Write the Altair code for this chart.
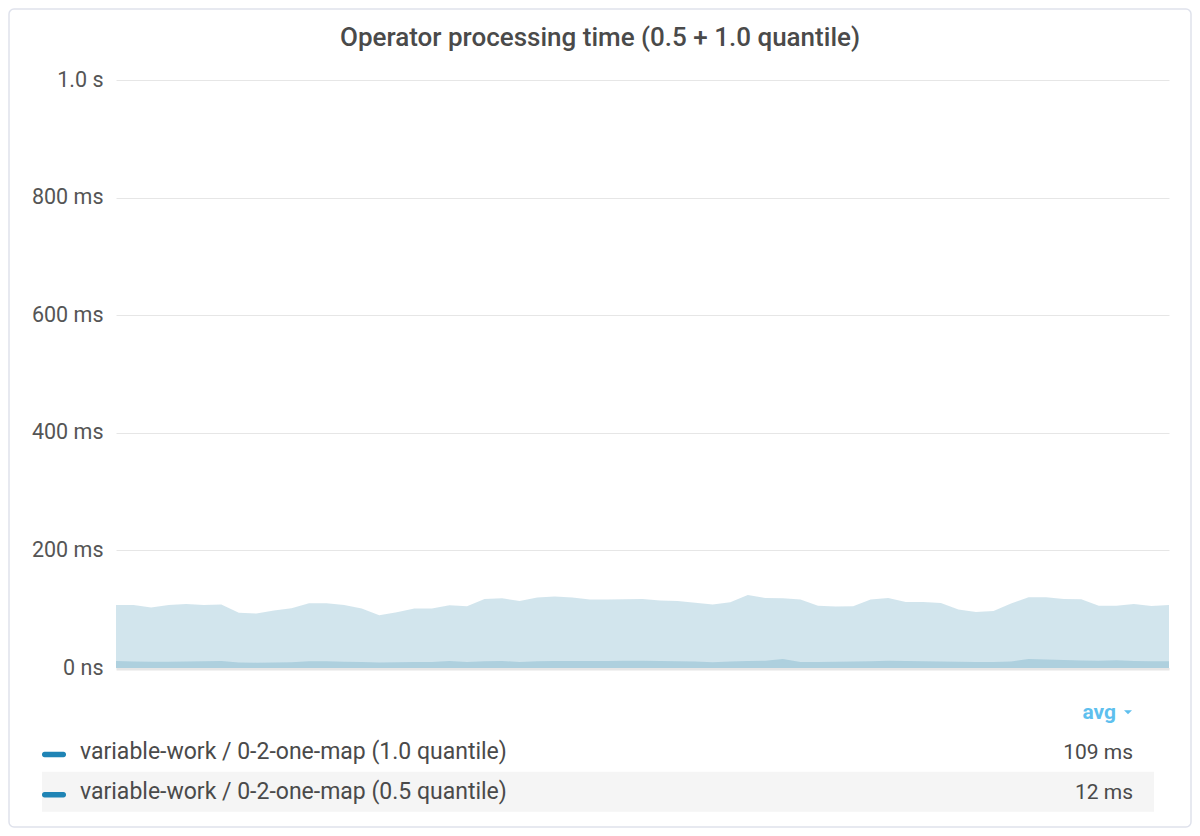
import altair as alt
import pandas as pd

# ---- data ----
q100 = [107, 107, 103, 107, 109, 107, 108, 94, 92.5, 98, 101.6, 110, 110, 107, 101,
        89.6, 94.7, 101, 101, 106.7, 105, 117.4, 118.6, 114, 119.7, 121.4, 120, 116.3,
        116.3, 117, 117.4, 115, 114, 111, 107.8, 111.8, 124, 119, 118.6, 116.3, 106,
        104.4, 105, 116.3, 119, 112.3, 112.3, 110.6, 99.3, 95.3, 97, 109.5, 120.3, 120.3,
        117.4, 117, 106, 106, 109, 105.5, 107]
q050 = [11.9, 11, 10.8, 10.8, 11, 11.5, 11.9, 9.5, 9.1, 9.5, 9.8, 11.5, 11.5, 10.8, 10.2,
        9.5, 9.8, 10, 10.2, 11.8, 10.2, 11.5, 12, 10.2, 11.5, 12, 12, 12, 12, 12.5, 12.5,
        12, 11.5, 11, 9.8, 11, 12, 12.5, 15.3, 10.2, 10.2, 10.5, 11, 11.5, 12.5, 12, 11.5,
        11, 10.5, 10, 10.2, 11, 15.3, 14.5, 13.5, 12.8, 12.5, 13, 11.8, 11.5, 11.5]
series_names = ["variable-work / 0-2-one-map (1.0 quantile)",
                "variable-work / 0-2-one-map (0.5 quantile)"]
series_avgs = ["109 ms", "12 ms"]
y_ticks = [0, 200, 400, 600, 800, 1000]
y_tick_labels = ["0 ns", "200 ms", "400 ms", "600 ms", "800 ms", "1.0 s"]
title_text = "Operator processing time (0.5 + 1.0 quantile)"
avg_header = "avg"

FONT = "Roboto"
AREA_COLOR = "#1e7da5"
SWATCH_COLOR = "#1f84b5"

df = pd.DataFrame({"t": list(range(len(q100))), "q100": q100, "q050": q050})

label_expr = "''"
for v, l in reversed(list(zip(y_ticks, y_tick_labels))):
    label_expr = f"datum.value == {v} ? '{l}' : ({label_expr})"

x_enc = alt.X("t:Q", scale=alt.Scale(domain=[0, len(q100) - 1], nice=False, zero=False),
              axis=alt.Axis(labels=False, ticks=False, grid=False, domain=True,
                            domainColor="#e6e6e6", domainWidth=2, offset=1),
              title=None)


def y_enc(field):
    return alt.Y(f"{field}:Q", scale=alt.Scale(domain=[0, 1000], nice=False),
                 axis=alt.Axis(values=y_ticks, labelExpr=label_expr, ticks=False, domain=False,
                               grid=True, gridColor="#e6e6e6", gridWidth=1, labelPadding=13,
                               labelFontSize=21.5, labelFont=FONT, labelColor="#555555"),
                 title=None)


area_hi = alt.Chart(df).mark_area(color=AREA_COLOR, fillOpacity=0.2).encode(x=x_enc, y=y_enc("q100"))
area_lo = alt.Chart(df).mark_area(color=AREA_COLOR, fillOpacity=0.2).encode(x=x_enc, y=y_enc("q050"))

one = alt.InlineData(values=[{"k": 1}])

border = alt.Chart(one).mark_rect(fillOpacity=0, stroke="#dfe2ec", strokeWidth=1.5,
                                  cornerRadius=5).encode(
    x=alt.value(-107), x2=alt.value(1075), y=alt.value(-71), y2=alt.value(747))

row_bg = alt.Chart(one).mark_rect(color="#f5f5f5").encode(
    x=alt.value(-74), x2=alt.value(1038), y=alt.value(691.7), y2=alt.value(731.7))

title = alt.Chart(pd.DataFrame({"s": [title_text]})).mark_text(
    font=FONT, fontSize=26, fontWeight=500, color="#4a4a4a", align="center",
    baseline="alphabetic").encode(text="s:N", x=alt.value(484), y=alt.value(-34))

avg_txt = alt.Chart(pd.DataFrame({"s": [avg_header]})).mark_text(
    font=FONT, fontSize=21, fontWeight="bold", color="#5ebfee", align="right",
    baseline="alphabetic").encode(text="s:N", x=alt.value(1000), y=alt.value(639))

avg_tri = alt.Chart(one).mark_point(
    shape="M-1,-0.45L1,-0.45L0,0.55Z", filled=True, size=64, color="#5ebfee", opacity=1).encode(
    x=alt.value(1012), y=alt.value(632))

layers = [border, row_bg, area_hi, area_lo, title, avg_txt, avg_tri]
row_y = [678.5, 718.5]
sw_y = [674.5, 714.7]
for i in range(2):
    d = pd.DataFrame({"name": [series_names[i]], "avg": [series_avgs[i]]})
    layers.append(alt.Chart(one).mark_rect(color=SWATCH_COLOR, cornerRadius=2.5).encode(
        x=alt.value(-74), x2=alt.value(-50), y=alt.value(sw_y[i] - 2.8), y2=alt.value(sw_y[i] + 2.8)))
    layers.append(alt.Chart(d).mark_text(font=FONT, fontSize=23, color="#4a4a4a", align="left",
                                         baseline="alphabetic").encode(
        text="name:N", x=alt.value(-36), y=alt.value(row_y[i])))
    layers.append(alt.Chart(d).mark_text(font=FONT, fontSize=21, color="#4a4a4a", align="right",
                                         baseline="alphabetic").encode(
        text="avg:N", x=alt.value(1017), y=alt.value(row_y[i])))

chart = alt.layer(*layers).properties(
    width=1053, height=588,
    autosize=alt.AutoSizeParams(type="none"),
    padding={"left": 108, "top": 72, "right": 23, "bottom": 160},
    background="white",
).configure_view(strokeWidth=0)

chart.save("out.html", embed_options={"renderer": "svg", "actions": False})
